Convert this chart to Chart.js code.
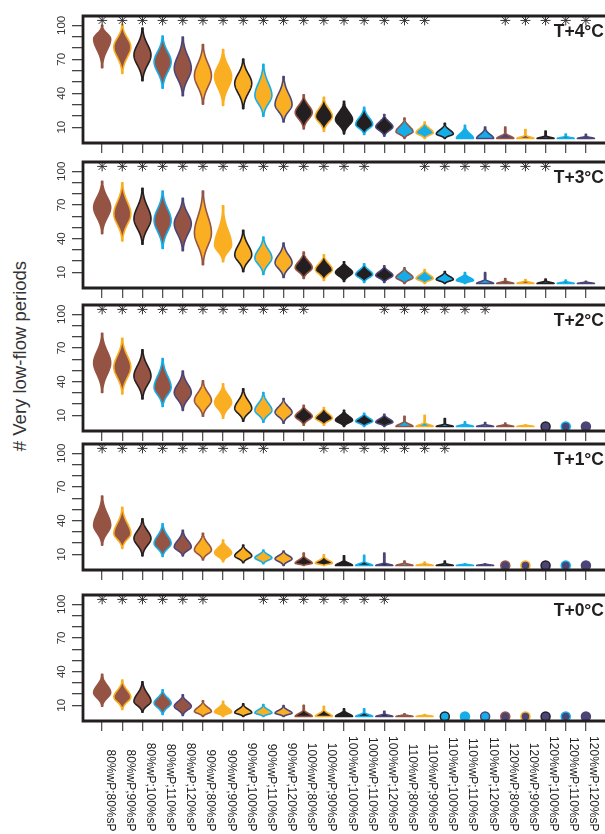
<!DOCTYPE html>
<html>
<head>
<meta charset="utf-8">
<script src="https://cdn.jsdelivr.net/npm/chart.js@4.4.0/dist/chart.umd.min.js"></script>
<style>
    html, body { margin: 0; padding: 0; background: #fff; }
    body { width: 605px; height: 834px; position: relative; overflow: hidden; font-family: "Liberation Sans", Arial, sans-serif; }
    canvas { position: absolute; left: 0; }
    #yTitle {
        position: absolute; left: -130px; top: 345px; width: 300px; height: 22px; line-height: 22px;
        text-align: center; font-size: 18.5px; color: #333; transform: rotate(-90deg);
    }
</style>
</head>
<body>
<div id="yTitle"># Very low-flow periods</div>
<canvas id="p0"></canvas>
<canvas id="p1"></canvas>
<canvas id="p2"></canvas>
<canvas id="p3"></canvas>
<canvas id="p4"></canvas>
<script>
// categories: winter precipitation ; summer precipitation
const catLabels = [
    "80%wP;80%sP", "80%wP;90%sP", "80%wP;100%sP", "80%wP;110%sP", "80%wP;120%sP",
    "90%wP;80%sP", "90%wP;90%sP", "90%wP;100%sP", "90%wP;110%sP", "90%wP;120%sP",
    "100%wP;80%sP", "100%wP;90%sP", "100%wP;100%sP", "100%wP;110%sP", "100%wP;120%sP",
    "110%wP;80%sP", "110%wP;90%sP", "110%wP;100%sP", "110%wP;110%sP", "110%wP;120%sP",
    "120%wP;80%sP", "120%wP;90%sP", "120%wP;100%sP", "120%wP;110%sP", "120%wP;120%sP"
];
// fill = wP level, outline = sP level (80, 90, 100, 110, 120 %)
const levelColors = ["#955443", "#FAAF22", "#231F20", "#13AEEA", "#4B4577"];
const panelNames = ["T+4°C", "T+3°C", "T+2°C", "T+1°C", "T+0°C"];
const yTickLabels = [10, 40, 70, 100];

// violin extents: lo = bottom, mid = widest point, hi = top, sd = body spread (all in # periods)
// hi of 0 means every run gave 0 -> drawn as a dot
const loT4  = [62.6, 57.6, 51, 44.4, 37.8, 30.4, 29.3, 26.4, 19.6, 14.6, 8.5, 6.5, 4.1, 3.6, 2.1, 0.1, 0, 0, 0, 0, 0, 0, 0, 0, 0];
const midT4 = [88, 81, 73.7, 67.8, 62, 55.5, 54.7, 48.8, 38, 29.9, 23, 19.6, 16.7, 12.4, 10.3, 6, 5, 4, 0, 0, 0, 0, 0, 0, 0];
const hiT4  = [100, 101, 97.6, 90.6, 89.7, 83, 78.6, 70.2, 65.5, 54.7, 38.6, 36.3, 32.8, 27.5, 21.1, 18.1, 14.6, 13.5, 11.7, 10, 10, 8, 6.5, 4, 3.6];
const sdT4  = [9.4, 10.9, 11.6, 11.5, 13, 13.1, 12.3, 11, 11.5, 10, 7.5, 7.5, 7.2, 6, 4.8, 4.5, 3.7, 3.4, 4, 3.5, 2, 1.2, 1, 0.8, 0.8];
const starsT4 = [0, 1, 2, 3, 4, 5, 6, 7, 8, 9, 10, 11, 12, 13, 14, 15, 16, 20, 21, 22, 23, 24];

const loT3  = [44.5, 38, 35, 31.3, 29.2, 16.7, 19.4, 10.6, 8, 5.3, 4.5, 2.7, 1.8, 1, 1, 0, 0, 0, 0, 0, 0, 0, 0, 0, 0];
const midT3 = [67.8, 62, 57.7, 56.2, 53.3, 45, 34.3, 25.5, 22.9, 18.5, 14.1, 12.4, 9.8, 8, 7.2, 5.3, 4.5, 3.6, 2.7, 0, 0, 0, 0, 0, 0];
const hiT3  = [91.2, 89.7, 84.8, 82.5, 76, 82.5, 69.3, 47.4, 41.3, 36, 28.1, 25.5, 19.4, 17.6, 15.8, 14.1, 12.4, 10.6, 9.7, 9.7, 4.5, 3.6, 4, 3, 2];
const sdT3  = [11.7, 12.9, 12.5, 12.8, 11.7, 16.5, 12.5, 9.2, 8.3, 7.7, 5.9, 5.7, 4.4, 4.2, 3.7, 3.5, 3.1, 2.6, 2.4, 1.5, 1, 1, 1, 0.8, 0.6];
const starsT3 = [0, 1, 2, 3, 4, 5, 6, 7, 8, 9, 10, 11, 12, 13, 16, 17, 18, 19, 20, 21, 22];

const loT2  = [30.4, 29, 24.6, 17.9, 14.4, 9.1, 7.4, 4.7, 3.9, 3, 1.2, 1.2, 0, 0, 0, 0, 0, 0, 0, 0, 0, 0, 0, 0, 0];
const midT2 = [56.7, 52.9, 45, 34.8, 30.2, 23.2, 21.4, 16.1, 14.4, 12.6, 9.1, 7.4, 5.6, 4.7, 3.9, 0, 0, 0, 0, 0, 0, 0, 0, 0, 0];
const hiT2  = [83, 78.6, 68.4, 60.6, 49.4, 40.7, 38, 33.7, 30.2, 24.9, 18.8, 17, 14.4, 11.8, 10.9, 9.1, 10, 7.1, 4.1, 3.6, 3, 1.5, 0, 0, 0];
const sdT2  = [13, 12.4, 11, 10.7, 8.8, 7.9, 7.7, 7.3, 6.6, 5.5, 4.4, 4, 3.6, 3, 2.7, 2, 1.5, 1, 1, 0.8, 0.8, 0.6, 0, 0, 0];
const starsT2 = [0, 1, 2, 3, 4, 5, 6, 7, 8, 9, 10, 14, 15, 16, 17, 18, 19];

const loT1  = [18.2, 15.3, 8.6, 8, 8.6, 5, 3.3, 2.4, 1.6, 0, 0, 0, 0, 0, 0, 0, 0, 0, 0, 0, 0, 0, 0, 0, 0];
const midT1 = [35.8, 28.5, 24.1, 19.7, 16.5, 13.8, 11.2, 8.6, 6.8, 6, 2, 2, 0, 0, 0, 0, 0, 0, 0, 0, 0, 0, 0, 0, 0];
const hiT1  = [62, 51.8, 41.6, 37.2, 31.3, 28.7, 22.6, 18.2, 13.8, 13, 11.2, 9.5, 8.6, 9, 11, 4, 3, 4, 1.5, 1.5, 0, 0, 0, 0, 0];
const sdT1  = [11, 9.1, 8.2, 7.3, 5.7, 5.9, 4.8, 4, 3.1, 3.2, 2.8, 2.4, 2, 1.5, 1, 1, 0.8, 0.8, 0.6, 0.6, 0, 0, 0, 0, 0];
const starsT1 = [0, 1, 2, 3, 4, 5, 6, 7, 8, 11, 12, 13, 14, 15, 16, 17];

const loT0  = [9.1, 6.2, 3.8, 1.8, 1, 0, 0, 0, 0, 0, 0, 0, 0, 0, 0, 0, 0, 0, 0, 0, 0, 0, 0, 0, 0];
const midT0 = [21.3, 17.3, 13.5, 12, 9.1, 4.5, 4, 3.5, 3.2, 3, 0, 0, 0, 0, 0, 0, 0, 0, 0, 0, 0, 0, 0, 0, 0];
const hiT0  = [37.7, 32.4, 31, 23.7, 19.3, 14, 13.5, 11.4, 10.6, 9.7, 10, 9, 6.8, 6.8, 4.7, 2.4, 1.8, 0, 0, 0, 0, 0, 0, 0, 0];
const sdT0  = [7.2, 6.6, 6.8, 5.5, 4.6, 3.5, 3.4, 2.9, 2.7, 2.4, 2.5, 2.5, 2.2, 1.5, 1, 0.7, 0.6, 0, 0, 0, 0, 0, 0, 0, 0];
const starsT0 = [0, 1, 2, 3, 4, 5, 8, 9, 10, 11, 12, 13, 14];

const panels = [
    { lo: loT4, mid: midT4, hi: hiT4, sd: sdT4, stars: starsT4 },
    { lo: loT3, mid: midT3, hi: hiT3, sd: sdT3, stars: starsT3 },
    { lo: loT2, mid: midT2, hi: hiT2, sd: sdT2, stars: starsT2 },
    { lo: loT1, mid: midT1, hi: hiT1, sd: sdT1, stars: starsT1 },
    { lo: loT0, mid: midT0, hi: hiT0, sd: sdT0, stars: starsT0 }
];

// page layout (px)
const boxTop = [14, 160, 303, 442, 593];
const boxBottom = [143, 288, 431, 570, 721];
const PAD = 4;
const STAR_Y = 104.4;

const fillOf = i => levelColors[Math.floor(i / 5)];
const lineOf = i => levelColors[i % 5];

// violins drawn through the chart scales
const violinPlugin = {
    id: "violins",
    beforeDatasetsDraw(chart) {
        const v = chart.options.plugins.violins;
        const xs = chart.scales.x, ys = chart.scales.y;
        const ctx = chart.ctx;
        const halfW = 8.5;
        v.hi.forEach((hi, i) => {
            if (hi <= 0) return;
            const lo = v.lo[i], mid = v.mid[i], sd = v.sd[i];
            const sUp = Math.max(Math.min(sd, (hi - mid) / 2.6), 0.3);
            const sDn = Math.min(sd, (mid - lo) / 2.6);
            const cx = xs.getPixelForValue(i);
            const pts = [];
            const steps = 90;
            for (let k = 0; k <= steps; k++) {
                const val = lo + (hi - lo) * k / steps;
                const d = val - mid;
                let g = 0;
                if (d >= 0) g = Math.exp(-0.5 * (d / sUp) ** 2);
                else if (sDn > 0) g = Math.exp(-0.5 * (d / sDn) ** 2);
                pts.push([ys.getPixelForValue(val), Math.max(halfW * g, 0.6)]);
            }
            ctx.save();
            ctx.beginPath();
            pts.forEach(([py, w], k) => k ? ctx.lineTo(cx + w, py) : ctx.moveTo(cx + w, py));
            for (let k = pts.length - 1; k >= 0; k--) ctx.lineTo(cx - pts[k][1], pts[k][0]);
            ctx.closePath();
            ctx.fillStyle = fillOf(i);
            ctx.fill();
            ctx.lineWidth = 1.6;
            ctx.lineJoin = "round";
            ctx.strokeStyle = lineOf(i);
            ctx.stroke();
            ctx.restore();
        });
    },
    afterDraw(chart) {
        const v = chart.options.plugins.violins;
        const ctx = chart.ctx;
        const a = chart.chartArea;
        const ys = chart.scales.y, xs = chart.scales.x;

        // frame (right side runs off the page)
        ctx.save();
        ctx.strokeStyle = "#231F20";
        ctx.lineWidth = 2.8;
        ctx.lineCap = "square";
        ctx.beginPath();
        ctx.moveTo(chart.width + 2, a.top);
        ctx.lineTo(a.left, a.top);
        ctx.lineTo(a.left, a.bottom);
        ctx.lineTo(chart.width + 2, a.bottom);
        ctx.stroke();

        // y tick labels, rotated
        ctx.fillStyle = "#333";
        ctx.font = "11.5px 'Liberation Sans', Arial, sans-serif";
        ctx.textAlign = "center";
        ctx.textBaseline = "alphabetic";
        yTickLabels.forEach(t => {
            ctx.save();
            ctx.translate(65, ys.getPixelForValue(t));
            ctx.rotate(-Math.PI / 2);
            ctx.fillText(String(t), 0, 0);
            ctx.restore();
        });

        // panel name
        ctx.fillStyle = "#231F20";
        ctx.font = "bold 17.5px 'Liberation Sans', Arial, sans-serif";
        ctx.textAlign = "right";
        ctx.fillText(v.name, 604, a.top + 21);

        // category labels under the last panel
        if (v.showLabels) {
            ctx.fillStyle = "#222";
            ctx.font = "12px 'Liberation Sans', Arial, sans-serif";
            ctx.textAlign = "right";
            catLabels.forEach((lab, i) => {
                ctx.save();
                ctx.translate(xs.getPixelForValue(i) + 4.5, chart.height - 2.5);
                ctx.rotate(Math.PI / 2);
                ctx.fillText(lab, 0, 0);
                ctx.restore();
            });
        }
        ctx.restore();
    }
};

function makePanel(p) {
    const d = panels[p];
    const last = p === panels.length - 1;
    const axisH = last ? 834 - boxBottom[p] : 12;
    const canvas = document.getElementById("p" + p);
    const h = PAD + (boxBottom[p] - boxTop[p]) + axisH;
    canvas.width = 605;
    canvas.height = h;
    canvas.style.top = (boxTop[p] - PAD) + "px";

    const dotIdx = d.hi.map((v, i) => v <= 0 ? i : -1).filter(i => i >= 0);

    return new Chart(canvas.getContext("2d"), {
        type: "scatter",
        data: {
            datasets: [
                {
                    // significance markers
                    data: d.stars.map(i => ({ x: i, y: STAR_Y })),
                    pointStyle: "star",
                    radius: 5,
                    borderWidth: 1,
                    borderColor: "#333",
                    clip: false
                },
                {
                    // all-zero cases
                    data: dotIdx.map(i => ({ x: i, y: 0 })),
                    pointStyle: "circle",
                    radius: 4.5,
                    borderWidth: 1.5,
                    backgroundColor: dotIdx.map(fillOf),
                    borderColor: dotIdx.map(lineOf),
                    clip: false
                }
            ]
        },
        options: {
            responsive: false,
            animation: false,
            devicePixelRatio: 1,
            layout: { padding: { top: PAD, right: 0, bottom: 0, left: 0 } },
            plugins: {
                legend: { display: false },
                tooltip: { enabled: false },
                violins: { lo: d.lo, mid: d.mid, hi: d.hi, sd: d.sd, name: panelNames[p], showLabels: last }
            },
            scales: {
                x: {
                    type: "linear",
                    min: -0.95,
                    max: 24.65,
                    afterBuildTicks: s => { s.ticks = catLabels.map((_, i) => ({ value: i })); },
                    afterFit: s => { s.height = axisH; },
                    ticks: { display: false },
                    border: { display: false },
                    grid: { drawOnChartArea: false, tickLength: 10, color: "#555", lineWidth: 1.3 }
                },
                y: {
                    type: "linear",
                    min: -4,
                    max: 108.3,
                    afterBuildTicks: s => { s.ticks = [10, 20, 30, 40, 50, 60, 70, 80, 90, 100].map(v => ({ value: v })); },
                    afterFit: s => { s.width = 83; },
                    ticks: { display: false },
                    border: { display: false },
                    grid: { drawOnChartArea: false, tickLength: 11, color: "#444", lineWidth: 1.3 }
                }
            }
        },
        plugins: [violinPlugin]
    });
}

document.addEventListener("DOMContentLoaded", () => {
    panels.forEach((_, p) => makePanel(p));
});
</script>
</body>
</html>
